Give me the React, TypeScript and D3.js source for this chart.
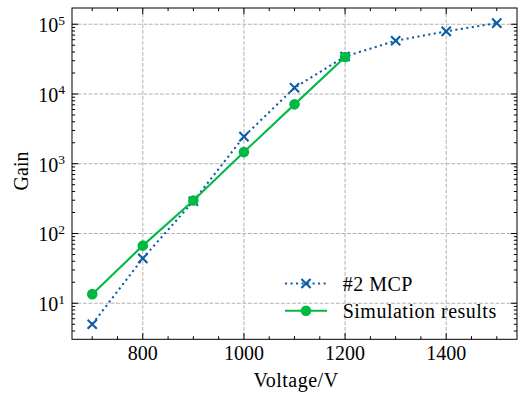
import React from "react";
import * as d3 from "d3";

const voltages = [700, 800, 900, 1000, 1100, 1200, 1300, 1400, 1500];
const mcpGain = [5.0, 44, 290, 2450, 12300, 34500, 58000, 79000, 104000];
const simVoltages = [700, 800, 900, 1000, 1100, 1200];
const simGain = [13.5, 67, 297, 1470, 7100, 33800];
const xMajorTicks = [800, 1000, 1200, 1400];
const yMajorExps = [1, 2, 3, 4, 5];
const seriesNames = ["#2 MCP", "Simulation results"];

const W = 519;
const H = 395;
const M = { left: 72, right: 517, top: 8, bottom: 339.3 };
const FONT = "Liberation Serif";
const FS = 20;
const BLUE = "#0C5DA5";
const GREEN = "#00B945";
const GRID = "#b2b2b2";

export default function App() {
  const xExt = d3.extent(voltages) as [number, number];
  const xPad = (xExt[1] - xExt[0]) * 0.05;
  const x = d3.scaleLinear().domain([xExt[0] - xPad, xExt[1] + xPad]).range([M.left, M.right]);

  const allY = [...mcpGain, ...simGain];
  const lmin = Math.log10(d3.min(allY) as number);
  const lmax = Math.log10(d3.max(allY) as number);
  const lpad = (lmax - lmin) * 0.05;
  const y = d3.scaleLog().domain([Math.pow(10, lmin - lpad), Math.pow(10, lmax + lpad)]).range([M.bottom, M.top]);

  const yMinor = y.ticks().filter((t) => {
    const e = Math.log10(t);
    return Math.abs(e - Math.round(e)) > 1e-6;
  });
  const xMinor = d3.range(700, 1501, 50).filter((v) => !xMajorTicks.includes(v));

  const line = d3.line<[number, number]>().x((d) => x(d[0])).y((d) => y(d[1]));
  const mcpPts: [number, number][] = voltages.map((v, i) => [v, mcpGain[i]]);
  const simPts: [number, number][] = simVoltages.map((v, i) => [v, simGain[i]]);

  const Xmark = ({ cx, cy }: { cx: number; cy: number }) => {
    const s = 4.6;
    return (
      <path
        d={`M${cx - s},${cy - s}L${cx + s},${cy + s}M${cx - s},${cy + s}L${cx + s},${cy - s}`}
        stroke={BLUE}
        strokeWidth={2.1}
        fill="none"
      />
    );
  };

  const majLen = 6.2;
  const minLen = 3.1;

  const legX0 = 285;
  const legX1 = 327;
  const legText = 342.7;
  const legY = [283.5, 310.7];
  const wide = { fontFamily: FONT, letterSpacing: "0.5px" };

  return (
    <svg width={W} height={H} style={{ position: "absolute", left: 0, top: 0, background: "#fff" }}>
      <rect x={0} y={0} width={W} height={H} fill="#fff" />
      {/* grid */}
      <g stroke={GRID} strokeWidth={1} strokeDasharray="3.8 1.7">
        {xMajorTicks.map((t) => (
          <line key={"gx" + t} x1={x(t)} x2={x(t)} y1={M.top} y2={M.bottom} />
        ))}
        {yMajorExps.map((e) => (
          <line key={"gy" + e} x1={M.left} x2={M.right} y1={y(Math.pow(10, e))} y2={y(Math.pow(10, e))} />
        ))}
      </g>
      {/* series */}
      <path d={line(mcpPts) || ""} fill="none" stroke={BLUE} strokeWidth={2.08} strokeDasharray="2.08 3.43" />
      {mcpPts.map((p, i) => (
        <Xmark key={"m" + i} cx={x(p[0])} cy={y(p[1])} />
      ))}
      <path d={line(simPts) || ""} fill="none" stroke={GREEN} strokeWidth={2.08} />
      {simPts.map((p, i) => (
        <circle key={"s" + i} cx={x(p[0])} cy={y(p[1])} r={5.3} fill={GREEN} />
      ))}
      {/* ticks */}
      <g stroke="#000" strokeWidth={1}>
        {xMajorTicks.map((t) => (
          <g key={"xt" + t}>
            <line x1={x(t)} x2={x(t)} y1={M.bottom} y2={M.bottom - majLen} />
            <line x1={x(t)} x2={x(t)} y1={M.top} y2={M.top + majLen} />
          </g>
        ))}
        {xMinor.map((t) => (
          <g key={"xm" + t}>
            <line x1={x(t)} x2={x(t)} y1={M.bottom} y2={M.bottom - minLen} />
            <line x1={x(t)} x2={x(t)} y1={M.top} y2={M.top + minLen} />
          </g>
        ))}
        {yMajorExps.map((e) => {
          const yy = y(Math.pow(10, e));
          return (
            <g key={"yt" + e}>
              <line x1={M.left} x2={M.left + majLen} y1={yy} y2={yy} />
              <line x1={M.right} x2={M.right - majLen} y1={yy} y2={yy} />
            </g>
          );
        })}
        {yMinor.map((t) => (
          <g key={"ym" + t}>
            <line x1={M.left} x2={M.left + minLen} y1={y(t)} y2={y(t)} />
            <line x1={M.right} x2={M.right - minLen} y1={y(t)} y2={y(t)} />
          </g>
        ))}
      </g>
      <rect x={M.left} y={M.top} width={M.right - M.left} height={M.bottom - M.top} fill="none" stroke="#000" strokeWidth={1} />
      {/* tick labels */}
      {xMajorTicks.map((t) => (
        <text key={"xl" + t} x={x(t)} y={M.bottom + 20.7} textAnchor="middle" fontSize={FS} style={{ fontFamily: FONT }}>
          {t}
        </text>
      ))}
      {yMajorExps.map((e) => (
        <text key={"yl" + e} x={65} y={y(Math.pow(10, e)) + 7.8} textAnchor="end" fontSize={FS} style={{ fontFamily: FONT }}>
          10
          <tspan dy={-7.5} fontSize={13.5}>
            {e}
          </tspan>
        </text>
      ))}
      {/* axis labels */}
      <text x={296} y={386.7} textAnchor="middle" fontSize={FS} style={wide}>
        Voltage/V
      </text>
      <text transform="translate(28,171) rotate(-90)" textAnchor="middle" fontSize={FS} style={{ fontFamily: FONT }}>
        Gain
      </text>
      {/* legend */}
      <line x1={legX0} x2={legX1} y1={legY[0]} y2={legY[0]} stroke={BLUE} strokeWidth={2.08} strokeDasharray="2.08 3.43" />
      <Xmark cx={(legX0 + legX1) / 2} cy={legY[0]} />
      <text x={legText} y={legY[0] + 7.5} fontSize={FS} style={wide}>
        {seriesNames[0]}
      </text>
      <line x1={legX0} x2={legX1} y1={legY[1]} y2={legY[1]} stroke={GREEN} strokeWidth={2.08} />
      <circle cx={(legX0 + legX1) / 2} cy={legY[1]} r={5.3} fill={GREEN} />
      <text x={legText} y={legY[1] + 7} fontSize={FS} style={wide}>
        {seriesNames[1]}
      </text>
    </svg>
  );
}
